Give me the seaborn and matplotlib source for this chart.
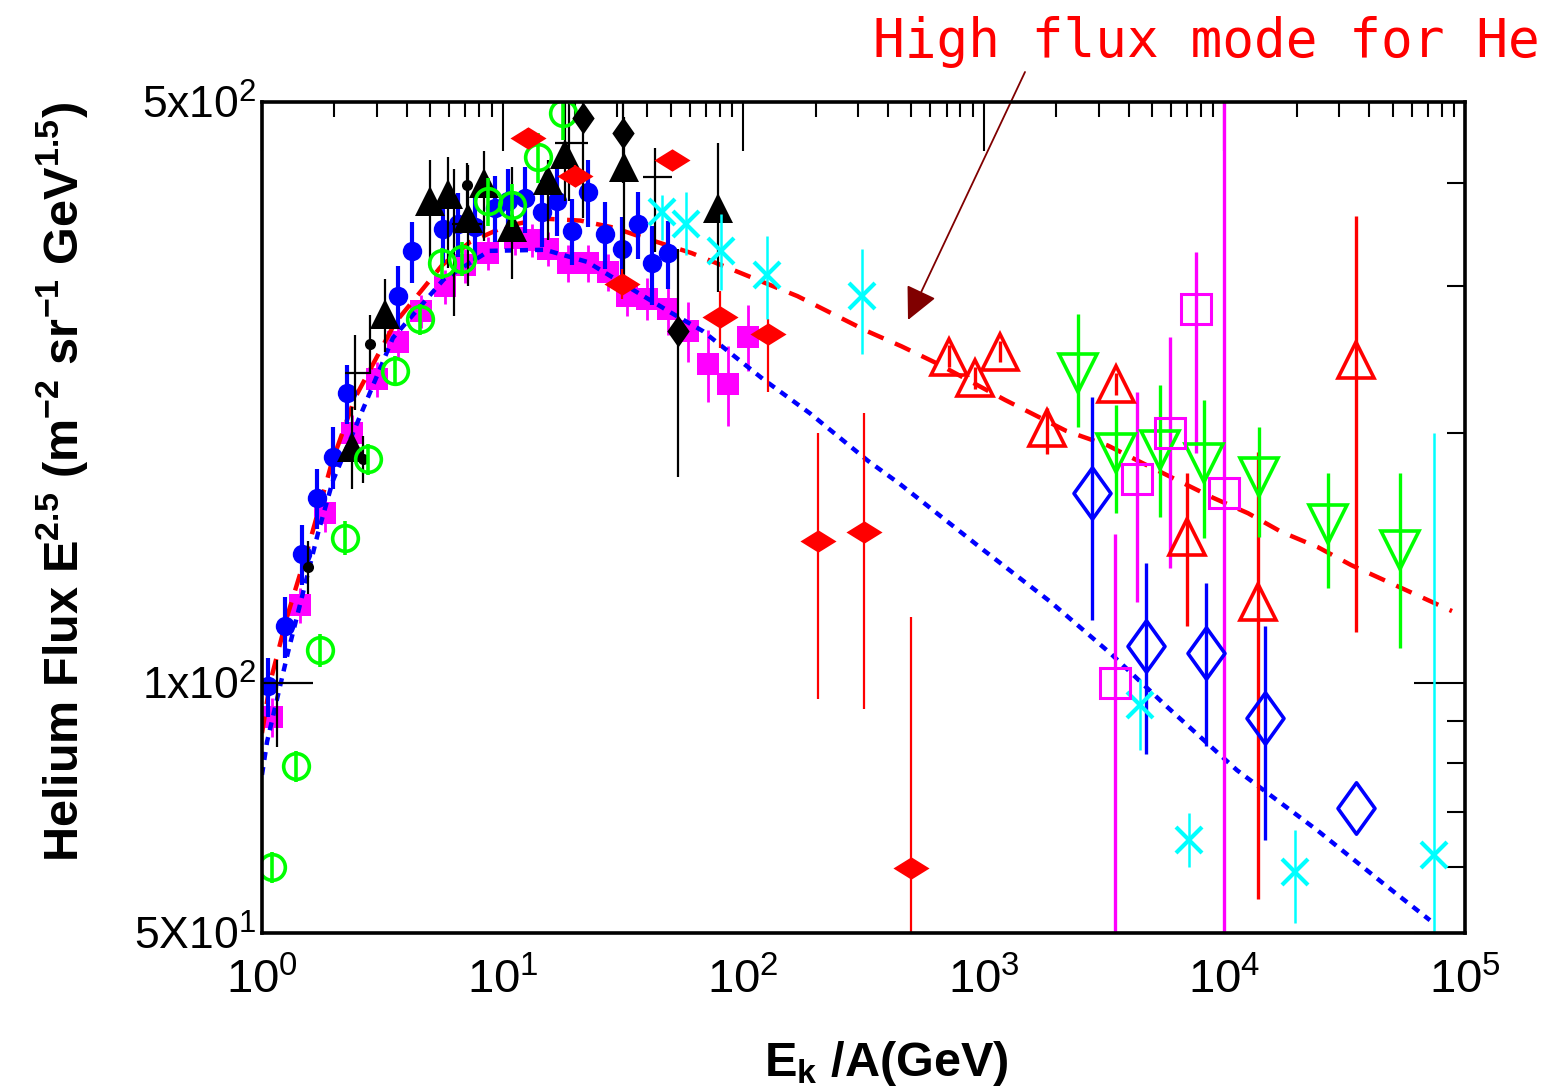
import numpy as np
import matplotlib
matplotlib.use("Agg")
import matplotlib.pyplot as plt
from matplotlib import font_manager
from matplotlib.path import Path
from matplotlib.ticker import FixedLocator, NullFormatter, FixedFormatter
import seaborn as sns

# ---------------- data ----------------
# model curves
fit_hi_E = [1.0, 1.08, 1.27, 1.55, 1.95, 2.43, 3.57, 5.6, 7.3, 10.2, 14.6, 21, 29, 35.5, 61, 86,
            168, 327, 456, 645, 1225, 2200, 3280, 4540, 8970, 12540, 17200, 24500, 33600, 88300]
fit_hi_F = [87, 100, 120, 145, 184, 220, 271, 318, 339, 354, 362, 360, 353, 346, 329, 316,
            292, 265, 254, 242, 219, 201, 193, 184, 167, 160, 152, 145.6, 138.6, 122]

fit_lo_E = [1.0, 1.05, 1.28, 1.71, 1.97, 3.5, 5.7, 8.8, 15, 22.5, 33, 50, 68, 121, 189.5, 330,
            448, 993, 1884, 3350, 5770, 11280, 24260, 45600, 71500]
fit_lo_F = [77.5, 85, 108.6, 151.5, 175, 260, 306, 331, 332, 321, 300, 279, 265, 232, 211, 185,
            173.5, 144.6, 125.3, 108.6, 93.6, 78.5, 66.5, 57.4, 51.8]

# filled magenta squares
msq_E = [1.1, 1.44, 1.83, 2.37, 3.0, 3.67, 4.6, 5.76, 7.0, 8.7, 11.3, 13.3, 15.4, 18.7, 22.6,
         27.3, 33, 40, 48.6, 58.8, 71.5, 86.6, 105]
msq_F = [91, 124, 160, 200, 232, 257, 280, 300, 318, 329, 343, 341, 333, 320, 320,
         312, 292, 290, 282, 265, 242, 229, 261]
msq_err = [5, 6, 8, 10, 11, 12, 13, 14, 15, 15, 16, 16, 16, 16, 16,
           16, 16, 17, 20, 22, 24, 25, 24]

# filled blue circles
bci_E = [1.06, 1.25, 1.47, 1.69, 1.97, 2.26, 3.67, 4.2, 5.65, 6.5, 7.7, 9.3, 10.5, 12.4, 14.6,
         16.8, 19.4, 22.6, 26.6, 31.4, 36.5, 41.7, 48.6]
bci_F = [99, 117, 143, 167, 187, 223, 292, 331, 352, 357, 354, 373, 380, 383, 369,
         380, 350, 390, 347, 333, 357, 320, 329]
bci_err = [8, 10, 12, 14, 16, 18, 25, 28, 32, 32, 32, 34, 35, 35, 34,
           35, 32, 36, 32, 31, 33, 35, 31]

# filled black triangles
btr_E = [2.37, 3.24, 5.0, 5.93, 7.2, 8.4, 10.9, 15.4, 18.2, 32, 78.6]
btr_F = [192, 278, 380, 388, 363, 399, 354, 403, 433, 418, 373]
btr_lo = [171, 250, 316, 316, 300, 340, 306, 341, 380, 300, 295]
btr_hi = [215, 306, 426, 429, 420, 436, 418, 426, 520, 480, 446]

# open green circles
gci_E = [1.1, 1.38, 1.74, 2.21, 2.76, 3.57, 4.54, 5.6, 6.8, 8.7, 10.9, 14, 17.8]
gci_F = [60, 79.4, 109.5, 149.5, 186, 237.5, 274, 320, 324, 380, 376, 429, 485]
gci_err = [2.5, 3.5, 5, 7, 8, 10, 12, 14, 15, 25, 22, 30, 35]

# filled red diamonds
rdi_E = [12.8, 20, 31.4, 50.6, 80, 127, 204, 317, 497]
rdi_F = [452, 407, 302, 426, 275.5, 263, 148, 152, 59.8]
rdi_lo = [440, 395, 290, 420, 253, 224, 95.5, 93.1, 40]
rdi_hi = [465, 420, 315, 432, 296, 274, 200, 211, 120]

# filled black diamonds
bdi_E = [21.6, 31.7, 53.6]
bdi_F = [478, 459, 265]
bdi_lo = [363, 400, 177]
bdi_hi = [520, 520, 333]

# small black circles
sbc_E = [1.55, 2.63, 2.81, 7.1]
sbc_F = [138, 186, 256, 397]
sbc_err = [10, 12, 21, 25]

# black crosses (energy bins)
crs_E = [1.15, 2.43, 6.3, 18.8, 43]
crs_F = [100, 236, 357, 446, 406]
crs_xlo = [0.98, 2.21, 6.17, 16.5, 38.4]
crs_xhi = [1.63, 2.81, 8.2, 22.6, 50.7]
crs_ylo = [83.7, 213, 276, 380, 330]
crs_yhi = [106.5, 262, 415, 520, 440]

# cyan crosses
cya_E = [45.9, 57.8, 81.1, 125, 313, 4450, 7150, 19600, 74500]
cya_F = [368.5, 357, 331, 310, 292, 94, 64.7, 59.2, 62.1]
cya_lo = [341, 327, 297, 274, 249, 83, 60.1, 51.4, 40]
cya_hi = [386, 390, 367, 345, 333, 101, 69.8, 66.5, 200]

# open red triangles
rtr_E = [720, 920, 1170, 1833, 3540, 6990, 13800, 35200]
rtr_F = [247, 233, 250, 202.6, 229, 150, 125, 244.5]
rtr_lo = [240, 226, 243, 188.5, 222, 117, 55, 115]
rtr_hi = [255, 240, 258, 214, 236, 179, 189.5, 365]

# open green down-triangles
gtr_E = [2465, 3540, 5400, 8230, 13900, 27000, 53700]
gtr_F = [236, 189, 190.5, 184, 177, 155.5, 144.6]
gtr_lo = [203, 160, 158.5, 149.5, 150, 130, 110]
gtr_hi = [278, 216, 228.5, 219, 203, 179, 179]

# open blue diamonds
bdo_E = [2818, 4720, 8390, 14760, 35200]
bdo_F = [169, 110.6, 108.6, 90.7, 70.7]
bdo_lo = [119, 82, 84, 64.7, 70.7]
bdo_hi = [221, 139.5, 132, 117, 70.7]

# open magenta squares
mso_E = [3510, 4330, 5940, 7620, 9960]
mso_F = [100, 176, 200, 282, 169]
mso_lo = [30, 125, 137.5, 189, 30]
mso_hi = [151, 224, 261, 330, 700]

x_major = [1, 10, 100, 1000, 10000, 100000]
x_labels = ["$10^{0}$", "$10^{1}$", "$10^{2}$", "$10^{3}$", "$10^{4}$", "$10^{5}$"]
y_major = [50, 100, 500]
y_labels = ["5X10$^{1}$", "1x10$^{2}$", "5x10$^{2}$"]
y_minor = [60, 70, 80, 90, 200, 300, 400]

# ---------------- style ----------------
sns.set_style("white")
names = {f.name for f in font_manager.fontManager.ttflist}
narrow = "Liberation Sans Narrow" if "Liberation Sans Narrow" in names else None
plt.rcParams["font.family"] = ["Liberation Sans", "DejaVu Sans"]
plt.rcParams["mathtext.fontset"] = "custom"
plt.rcParams["mathtext.rm"] = "Liberation Sans"
plt.rcParams["mathtext.it"] = "Liberation Sans:italic"
plt.rcParams["mathtext.bf"] = "Liberation Sans:bold"
plt.rcParams["mathtext.default"] = "regular"
for key in ["text.color", "axes.labelcolor", "xtick.color", "ytick.color", "axes.edgecolor"]:
    plt.rcParams[key] = "black"

W, H = 1552, 1091
fig = plt.figure(figsize=(W / 100, H / 100), dpi=100)
ax = fig.add_axes([262 / W, 1 - 933 / H, (1465 - 262) / W, (933 - 102) / H])
ax.set_xscale("log")
ax.set_yscale("log")
ax.set_xlim(1, 1e5)
ax.set_ylim(50, 500)

RED, BLUE, MAG, GRN, CYN, BLK = "#ff0000", "#0000ff", "#ff00ff", "#00ff00", "#00ffff", "#000000"


def closed_marker(pts):
    verts = list(pts) + [pts[0]]
    codes = [Path.MOVETO] + [Path.LINETO] * (len(pts) - 1) + [Path.CLOSEPOLY]
    return Path(verts, codes)


wide_diamond = closed_marker([(-1, 0), (0, 0.62), (1, 0), (0, -0.62)])
tall_diamond = closed_marker([(0, 1), (0.72, 0), (0, -1), (-0.72, 0)])
blk_diamond = closed_marker([(0, 1), (0.7, 0), (0, -1), (-0.7, 0)])


def series(E, F, lo, hi, marker, color, ms, filled, mew, elw, z):
    E = np.asarray(E, float)
    F = np.asarray(F, float)
    yerr = np.vstack([F - np.asarray(lo, float), np.asarray(hi, float) - F])
    ax.errorbar(E, F, yerr=yerr, fmt="none", ecolor=color, elinewidth=elw,
                capsize=0, zorder=z, clip_on=True)
    ax.plot(E, F, ls="none", marker=marker, ms=ms,
            mfc=color if filled else "none", mec=color, mew=mew, zorder=z + 0.1)


def sym(F, err):
    F = np.asarray(F, float)
    e = np.asarray(err, float)
    return F - e, F + e


lo, hi = sym(msq_F, msq_err)
series(msq_E, msq_F, lo, hi, "s", MAG, 16.5, True, 0, 2.0, 2)

# model curves
sns.lineplot(x=fit_lo_E, y=fit_lo_F, ax=ax, color=BLUE, lw=3.2, sort=False,
             estimator=None, linestyle=(0, (1.8, 1.6)), zorder=3)
sns.lineplot(x=fit_hi_E, y=fit_hi_F, ax=ax, color=RED, lw=3.2, sort=False,
             estimator=None, linestyle=(0, (3.8, 2.8)), zorder=3)

lo, hi = sym(bci_F, bci_err)
series(bci_E, bci_F, lo, hi, "o", BLUE, 14, True, 0, 3.0, 4)
series(btr_E, btr_F, btr_lo, btr_hi, "^", BLK, 21, True, 0, 1.6, 5)
lo, hi = sym(sbc_F, sbc_err)
series(sbc_E, sbc_F, lo, hi, "o", BLK, 8, True, 0, 1.6, 5)

# crosses with energy-bin widths
cE = np.asarray(crs_E, float)
cF = np.asarray(crs_F, float)
ax.errorbar(cE, cF,
            xerr=np.vstack([cE - np.asarray(crs_xlo), np.asarray(crs_xhi) - cE]),
            yerr=np.vstack([cF - np.asarray(crs_ylo), np.asarray(crs_yhi) - cF]),
            fmt="none", ecolor=BLK, elinewidth=1.6, capsize=0, zorder=5)

lo, hi = sym(gci_F, gci_err)
series(gci_E, gci_F, lo, hi, "o", GRN, 18.5, False, 2.6, 2.6, 6)
series(rdi_E, rdi_F, rdi_lo, rdi_hi, wide_diamond, RED, 26, True, 0, 1.6, 6)
series(bdi_E, bdi_F, bdi_lo, bdi_hi, blk_diamond, BLK, 23, True, 0, 1.6, 6)
series(cya_E, cya_F, cya_lo, cya_hi, "x", CYN, 19, False, 3.0, 1.8, 6)
series(rtr_E, rtr_F, rtr_lo, rtr_hi, "^", RED, 26, False, 2.6, 2.4, 6)
series(gtr_E, gtr_F, gtr_lo, gtr_hi, "v", GRN, 27, False, 2.6, 2.4, 6)
series(bdo_E, bdo_F, bdo_lo, bdo_hi, tall_diamond, BLUE, 37, False, 2.6, 2.4, 6)
series(mso_E, mso_F, mso_lo, mso_hi, "s", MAG, 21, False, 2.2, 2.4, 6)

# ---------------- axes ----------------
for s in ax.spines.values():
    s.set_linewidth(2.6)
    s.set_color("black")
    s.set_zorder(10)

ax.xaxis.set_major_locator(FixedLocator(x_major))
ax.xaxis.set_major_formatter(FixedFormatter(x_labels))
ax.xaxis.set_minor_locator(FixedLocator([m * 10 ** d for d in range(5) for m in range(2, 10)]))
ax.xaxis.set_minor_formatter(NullFormatter())
ax.yaxis.set_major_locator(FixedLocator(y_major))
ax.yaxis.set_major_formatter(FixedFormatter(y_labels))
ax.yaxis.set_minor_locator(FixedLocator(y_minor))
ax.yaxis.set_minor_formatter(NullFormatter())

ax.tick_params(which="both", direction="in", top=True, right=True, width=1.5, color="black")
ax.tick_params(axis="x", which="major", length=35, pad=18)
ax.tick_params(axis="x", which="minor", length=11)
ax.tick_params(axis="y", which="major", length=37, pad=4)
ax.tick_params(axis="y", which="minor", length=13)
for t in ax.get_xticklabels():
    if narrow:
        t.set_fontfamily(narrow)
        t.set_fontsize(38)
    else:
        t.set_fontsize(34)
    t.set_color("black")
for t in ax.get_yticklabels():
    t.set_fontsize(32)
    t.set_color("black")

ax.set_xlabel("E$_{k}$ /A(GeV)", fontsize=35, fontweight="bold", color="black")
ax.xaxis.set_label_coords(0.519, -0.128)
ax.set_ylabel("Helium Flux E$^{2.5}$ (m$^{-2}$ sr$^{-1}$ GeV$^{1.5}$)",
              fontsize=35, fontweight="bold", color="black")
ax.yaxis.set_label_coords(-0.143, 0.543)

# annotation for the high-flux curve
fig.text(873 / W, 1 - 57 / H, "High flux mode for He", color=RED,
         fontsize=38, family="DejaVu Sans Mono", va="baseline", ha="left")
ax.annotate("", xy=(908 / W, 1 - 320 / H), xycoords="figure fraction",
            xytext=(1025 / W, 1 - 72 / H), textcoords="figure fraction",
            arrowprops=dict(arrowstyle="-|>,head_length=0.45,head_width=0.22",
                            color="#800000", lw=1.3, mutation_scale=45,
                            shrinkA=0, shrinkB=0),
            annotation_clip=False)

fig.savefig("out.png", dpi=100, facecolor="white")
